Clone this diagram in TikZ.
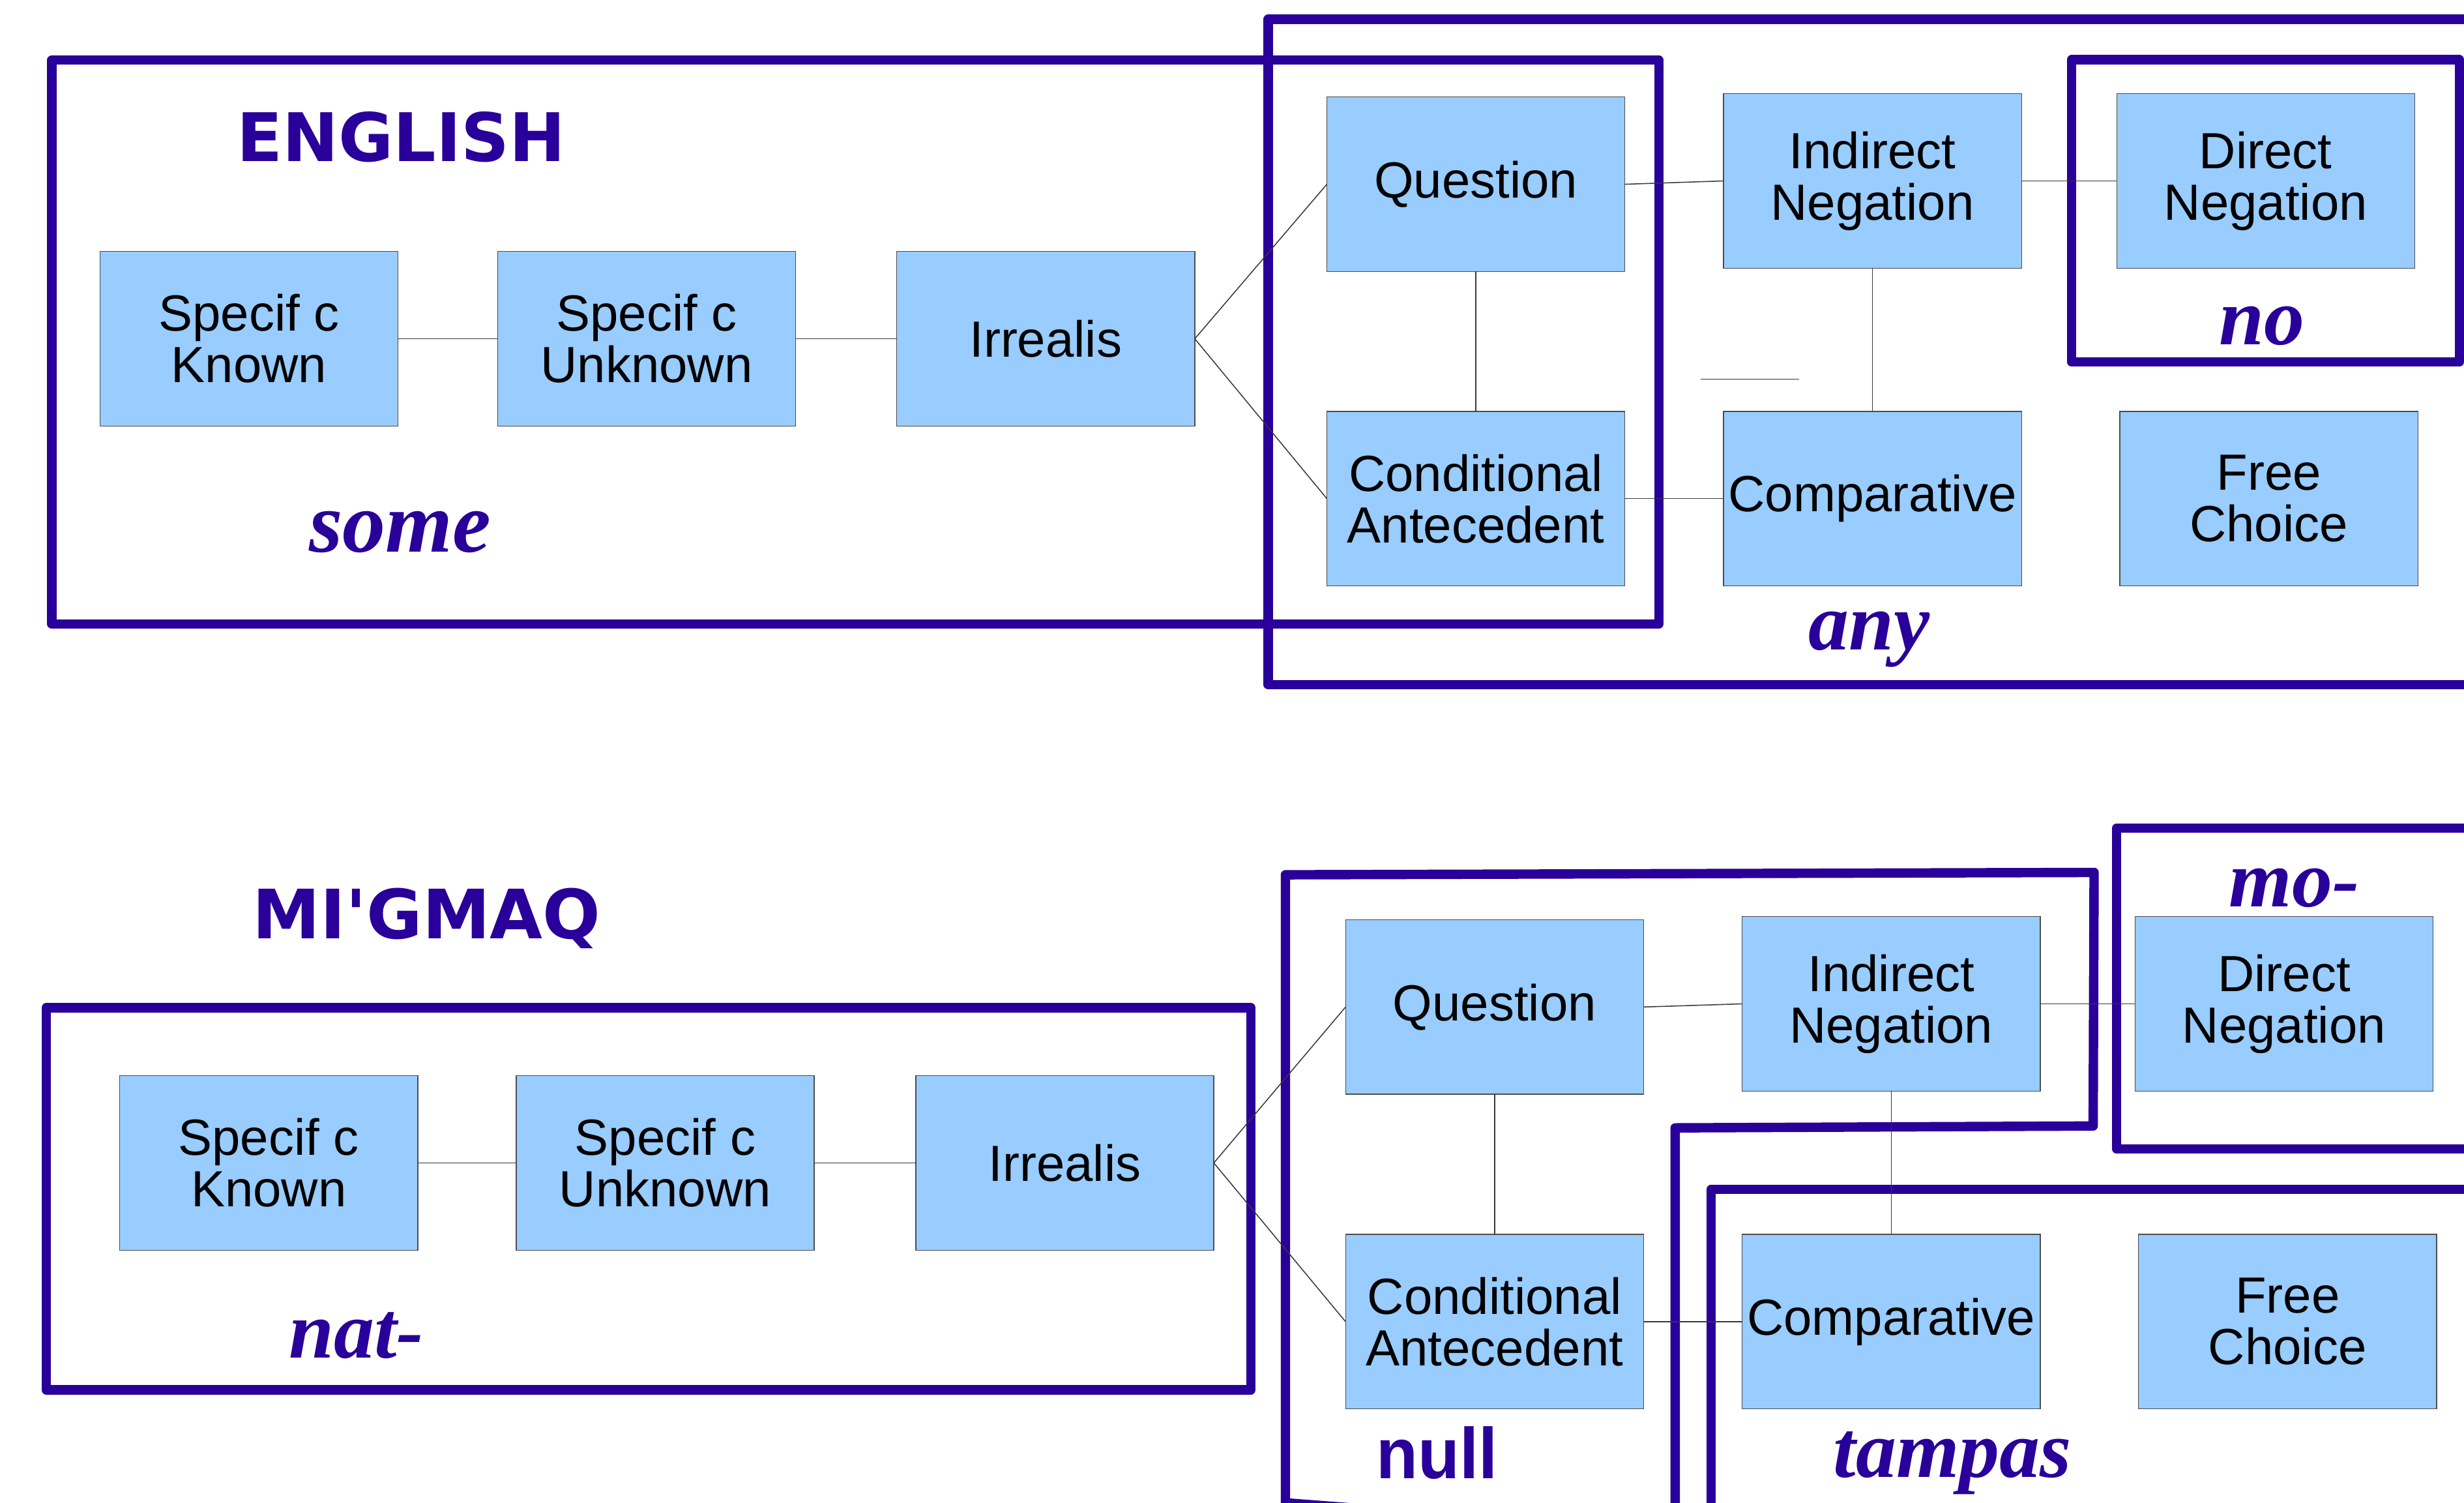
\documentclass[tikz,border=0pt]{standalone}
\usepackage{fontspec}
\setmainfont{Liberation Sans}
\newfontfamily\headfont{DejaVu Sans}
\newfontfamily\affixfont{Liberation Serif}
\newfontfamily\narrowbold[FakeStretch=0.95]{Liberation Sans}

\definecolor{indigo}{HTML}{290099}
\definecolor{boxblue}{HTML}{99CCFF}

\tikzset{
  catbox/.style={draw=black!70, line width=0.4pt, fill=boxblue,
    minimum width=4.74cm, minimum height=2.775cm, inner sep=0pt, outer sep=0pt,
    align=center, font=\fontsize{23}{23.3}\selectfont},
  link/.style={draw=black!78, line width=0.45pt},
  group/.style={draw=indigo, line width=4.25pt, line join=round},
  affix/.style={text=indigo, inner sep=0pt, anchor=base,
    font=\affixfont\bfseries\itshape\fontsize{36.6}{36.6}\selectfont},
  heading/.style={text=indigo, inner sep=0pt, anchor=base west}
}

\begin{document}
\begin{tikzpicture}[x=0.025cm, y=-0.025cm]
\useasboundingbox (0,0) rectangle (1568,956);
\clip (0,0) rectangle (1568,956);

% ---------------- grouping frames ----------------
\draw[group] (33,38.2) rectangle (1055.6,397);
\draw[group] (1600,12.3) -- (807,12.3) -- (807,435.6) -- (1600,435.6);
\draw[group] (1318.3,38) rectangle (1565,230.3);

\draw[group] (29.4,641.1) rectangle (796,884.2);
\draw[group] (1066,975) -- (818,956) -- (818,556.5) -- (1332.6,555)
             -- (1332,716.3) -- (1066,717.5) -- (1066,975);
\draw[group] (1600,526.9) -- (1347,526.9) -- (1347,731) -- (1600,731);
\draw[group] (1600,756.5) -- (1088.9,756.5) -- (1088.9,975);

% ---------------- English ----------------
\node[heading, font=\headfont\bfseries\fontsize{30.3}{30.3}\selectfont] (titleEN) at (150.4,102.7) {ENGLISH};

\node[catbox] (skE) at (158.5,215.5) {Specif c\\Known};
\node[catbox] (suE) at (411.5,215.5) {Specif c\\Unknown};
\node[catbox] (irE) at (665.5,215.5) {Irrealis};
\node[catbox] (qE)  at (939.2,117.2) {Question};
\node[catbox] (inE) at (1191.6,115.1) {Indirect\\Negation};
\node[catbox] (dnE) at (1441.8,115.1) {Direct\\Negation};
\node[catbox] (caE) at (939.2,317.2) {Conditional\\Antecedent};
\node[catbox] (cpE) at (1191.6,317.2) {Comparative};
\node[catbox] (fcE) at (1443.8,317.2) {Free\\Choice};

\draw[link] (skE.east) -- (suE.west);
\draw[link] (suE.east) -- (irE.west);
\draw[link] (irE.east) -- (qE.west);
\draw[link] (irE.east) -- (caE.west);
\draw[link] (qE.east) -- (inE.west);
\draw[link] (inE.east) -- (dnE.west);
\draw[link] (qE.south) -- (caE.north);
\draw[link] (inE.south) -- (cpE.north);
\draw[link] (caE.east) -- (cpE.west);
\coordinate (strayA) at (1082.2,241.2);
\coordinate (strayB) at (1144.8,241.2);
\draw[link] (strayA) -- (strayB);

\node[affix, font=\affixfont\bfseries\itshape\fontsize{39}{39}\selectfont] (someL) at (254.6,351.2) {some};
\node[affix] (anyL)  at (1189.4,413.5) {any};
\node[affix] (noL)   at (1439.4,219.4) {no};

% ---------------- Mi'gmaq ----------------
\node[heading, font=\headfont\bfseries\fontsize{30.8}{30.8}\selectfont] (titleMQ) at (160.5,597.2) {MI'GMAQ};

\node[catbox] (skM) at (171,739.8) {Specif c\\Known};
\node[catbox] (suM) at (423.3,739.8) {Specif c\\Unknown};
\node[catbox] (irM) at (677.6,739.8) {Irrealis};
\node[catbox] (qM)  at (951.1,640.6) {Question};
\node[catbox] (inM) at (1203.5,638.6) {Indirect\\Negation};
\node[catbox] (dnM) at (1453.5,638.6) {Direct\\Negation};
\node[catbox] (caM) at (951.1,840.8) {Conditional\\Antecedent};
\node[catbox] (cpM) at (1203.5,840.8) {Comparative};
\node[catbox] (fcM) at (1455.7,840.8) {Free\\Choice};

\draw[link] (skM.east) -- (suM.west);
\draw[link] (suM.east) -- (irM.west);
\draw[link] (irM.east) -- (qM.west);
\draw[link] (irM.east) -- (caM.west);
\draw[link] (qM.east) -- (inM.west);
\draw[link] (inM.east) -- (dnM.west);
\draw[link] (qM.south) -- (caM.north);
\draw[link] (inM.south) -- (cpM.north);
\draw[link] (caM.east) -- (cpM.west);

\node[affix] (natL)    at (226.8,863.7) {nat-};
\node[affix] (moL)     at (1460,576.6) {mo-};
\node[affix] (tampasL) at (1242.5,939.8) {tampas};
\node[text=indigo, inner sep=0pt, anchor=base west,
      font=\narrowbold\bfseries\fontsize{32.5}{32.5}\selectfont] (nullL) at (875.7,940.5) {null};
\end{tikzpicture}
\end{document}
